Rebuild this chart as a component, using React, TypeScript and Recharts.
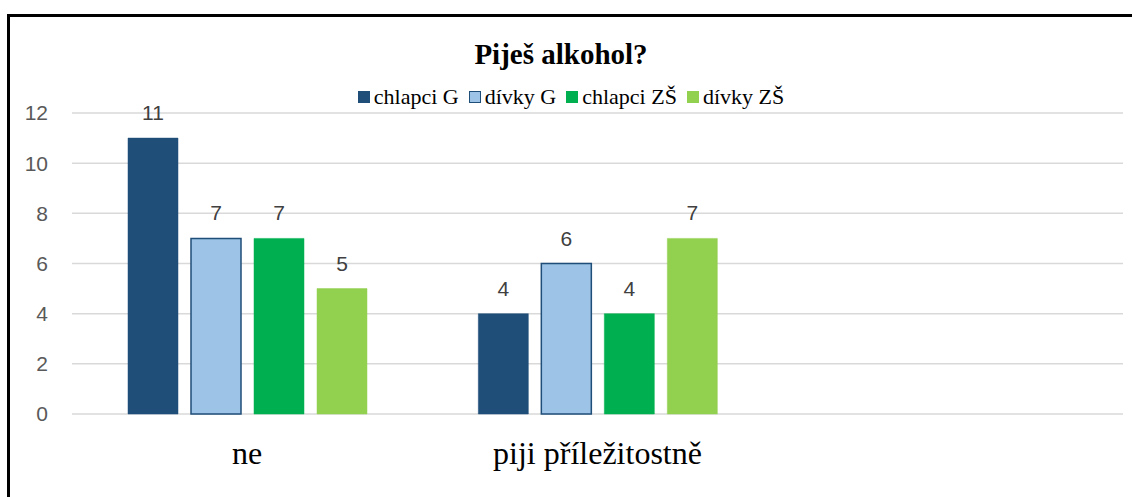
import { Bar, BarChart, CartesianGrid, LabelList, XAxis, YAxis } from 'recharts';

const categories = ['ne', 'piji příležitostně', ''];
const chlapciG = [11, 4, null];
const divkyG = [7, 6, null];
const chlapciZS = [7, 4, null];
const divkyZS = [5, 7, null];
const yTicks = [0, 2, 4, 6, 8, 10, 12];

const series = [
  { key: 'chlapciG', name: 'chlapci G', values: chlapciG, fill: '#1F4E79', stroke: '#1F4E79' },
  { key: 'divkyG', name: 'dívky G', values: divkyG, fill: '#9DC3E6', stroke: '#1F4E79' },
  { key: 'chlapciZS', name: 'chlapci ZŠ', values: chlapciZS, fill: '#00B050', stroke: '#00B050' },
  { key: 'divkyZS', name: 'dívky ZŠ', values: divkyZS, fill: '#92D050', stroke: '#92D050' },
];

const data = categories.map((name, i) => {
  const row: Record<string, string | number | null> = { name };
  series.forEach((s) => {
    row[s.key] = s.values[i];
  });
  return row;
});

const serif = 'Liberation Serif, serif';
const sans = 'Liberation Sans, sans-serif';

function CategoryTick(props: any) {
  const { x, y, payload } = props;
  return (
    <text x={x} y={y + 50} textAnchor="middle" fill="#000" fontFamily={serif} fontSize={32}>
      {payload.value}
    </text>
  );
}

export default function App() {
  return (
    <div
      style={{
        position: 'absolute',
        left: 0,
        top: 0,
        width: 1132,
        height: 497,
        overflow: 'hidden',
        background: '#fff',
      }}
    >
      <div
        style={{
          position: 'absolute',
          left: 7,
          top: 14,
          width: 1125,
          height: 483,
          boxSizing: 'border-box',
          borderTop: '3px solid #000',
          borderLeft: '3px solid #000',
        }}
      />
      <div
        style={{
          position: 'absolute',
          left: 0,
          top: 40,
          width: 1122,
          textAlign: 'center',
          fontFamily: serif,
          fontWeight: 'bold',
          fontSize: 29,
          lineHeight: 1,
        }}
      >
        Piješ alkohol?
      </div>
      <div
        style={{
          position: 'absolute',
          left: 4,
          top: 86,
          width: 1134,
          display: 'flex',
          justifyContent: 'center',
          gap: 10,
          fontFamily: serif,
          fontSize: 22,
          lineHeight: 1,
        }}
      >
        {series.map((s) => (
          <div key={s.key} style={{ display: 'flex', alignItems: 'center' }}>
            <span
              style={{
                display: 'inline-block',
                width: 12,
                height: 12,
                boxSizing: 'border-box',
                background: s.fill,
                border: `1.5px solid ${s.stroke}`,
                marginRight: 4,
              }}
            />
            <span>{s.name}</span>
          </div>
        ))}
      </div>
      <BarChart
        width={1132}
        height={497}
        data={data}
        margin={{ top: 113, right: 9, bottom: 23, left: 0 }}
        barSize={50}
        barGap={13}
        style={{ position: 'absolute', left: 0, top: 0 }}
      >
        <CartesianGrid vertical={false} stroke="#D9D9D9" strokeWidth={1.5} />
        <XAxis
          dataKey="name"
          height={60}
          axisLine={false}
          tickLine={false}
          tickSize={0}
          tickMargin={0}
          interval={0}
          tick={<CategoryTick />}
        />
        <YAxis
          width={72}
          domain={[0, 12]}
          ticks={yTicks}
          axisLine={false}
          tickLine={false}
          tickSize={0}
          tickMargin={24}
          tick={{ fill: '#595959', fontSize: 21, fontFamily: sans }}
        />
        {series.map((s) => (
          <Bar
            key={s.key}
            dataKey={s.key}
            name={s.name}
            fill={s.fill}
            stroke={s.stroke}
            strokeWidth={s.key === 'divkyG' ? 1.5 : 0.5}
            isAnimationActive={false}
          >
            <LabelList
              dataKey={s.key}
              position="top"
              offset={18}
              fill="#404040"
              fontSize={21}
              fontFamily={sans}
              formatter={(v: any) => (v == null ? '' : v)}
            />
          </Bar>
        ))}
      </BarChart>
    </div>
  );
}
